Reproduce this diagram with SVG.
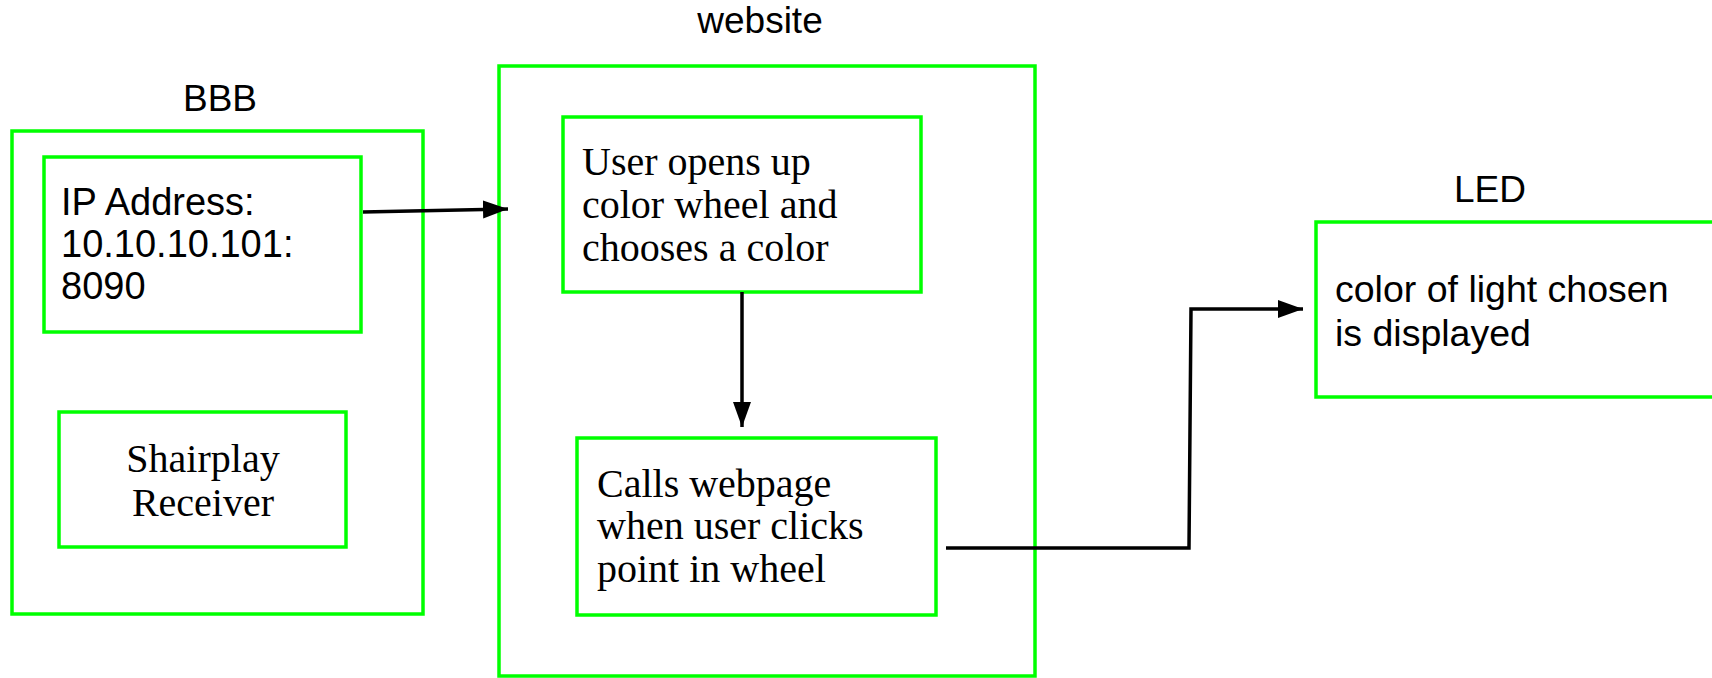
<svg xmlns="http://www.w3.org/2000/svg" width="1712" height="678" viewBox="0 0 1712 678">
<defs>
<style>
.box{fill:none;stroke:#00ff00;stroke-width:3.5}
.sans{font-family:"Liberation Sans",Arial,sans-serif;font-size:37px;fill:#000}
.serif{font-family:"Liberation Serif","Times New Roman",serif;font-size:40px;fill:#000}
.conn{fill:none;stroke:#000;stroke-width:3.5}
</style>
<marker id="ah" markerUnits="userSpaceOnUse" markerWidth="26" markerHeight="20" refX="25" refY="10" orient="auto">
<path d="M0,1 L25,10 L0,19 Z" fill="#000"/>
</marker>
</defs>
<rect width="1712" height="678" fill="#fff"/>
<g id="bbb">
<rect class="box" x="12" y="131" width="411" height="483"/>
<text class="sans" x="220" y="111" text-anchor="middle">BBB</text>
</g>
<g id="ip">
<rect class="box" x="44" y="157" width="317" height="175"/>
<text class="sans" x="61" y="215" style="font-size:38px">IP Address:</text>
<text class="sans" x="61" y="257" style="font-size:38px">10.10.10.101:</text>
<text class="sans" x="61" y="299" style="font-size:38px">8090</text>
</g>
<g id="shairplay">
<rect class="box" x="59" y="412" width="287" height="135"/>
<text class="serif" x="203" y="472" text-anchor="middle">Shairplay</text>
<text class="serif" x="203" y="516" text-anchor="middle">Receiver</text>
</g>
<g id="website">
<rect class="box" x="499" y="66" width="536" height="610"/>
<text class="sans" x="760" y="33" text-anchor="middle">website</text>
</g>
<g id="opens">
<rect class="box" x="563" y="117" width="358" height="175"/>
<text class="serif" x="582" y="175">User opens up</text>
<text class="serif" x="582" y="218">color wheel and</text>
<text class="serif" x="582" y="261">chooses a color</text>
</g>
<g id="calls">
<rect class="box" x="577" y="438" width="359" height="177"/>
<text class="serif" x="597" y="497">Calls webpage</text>
<text class="serif" x="597" y="539">when user clicks</text>
<text class="serif" x="597" y="582">point in wheel</text>
</g>
<g id="led">
<rect class="box" x="1316" y="222" width="410" height="175"/>
<text class="sans" x="1490" y="202" text-anchor="middle">LED</text>
<text class="sans" x="1335" y="302" style="font-size:37.5px">color of light chosen</text>
<text class="sans" x="1335" y="346" style="font-size:37.5px">is displayed</text>
</g>
<g id="connectors">
<path class="conn" d="M363,212 L508,209" marker-end="url(#ah)"/>
<path class="conn" d="M742,292 L742,427" marker-end="url(#ah)"/>
<path class="conn" d="M946,548 L1189,548 L1191,309 L1303,309" marker-end="url(#ah)"/>
</g>
</svg>
